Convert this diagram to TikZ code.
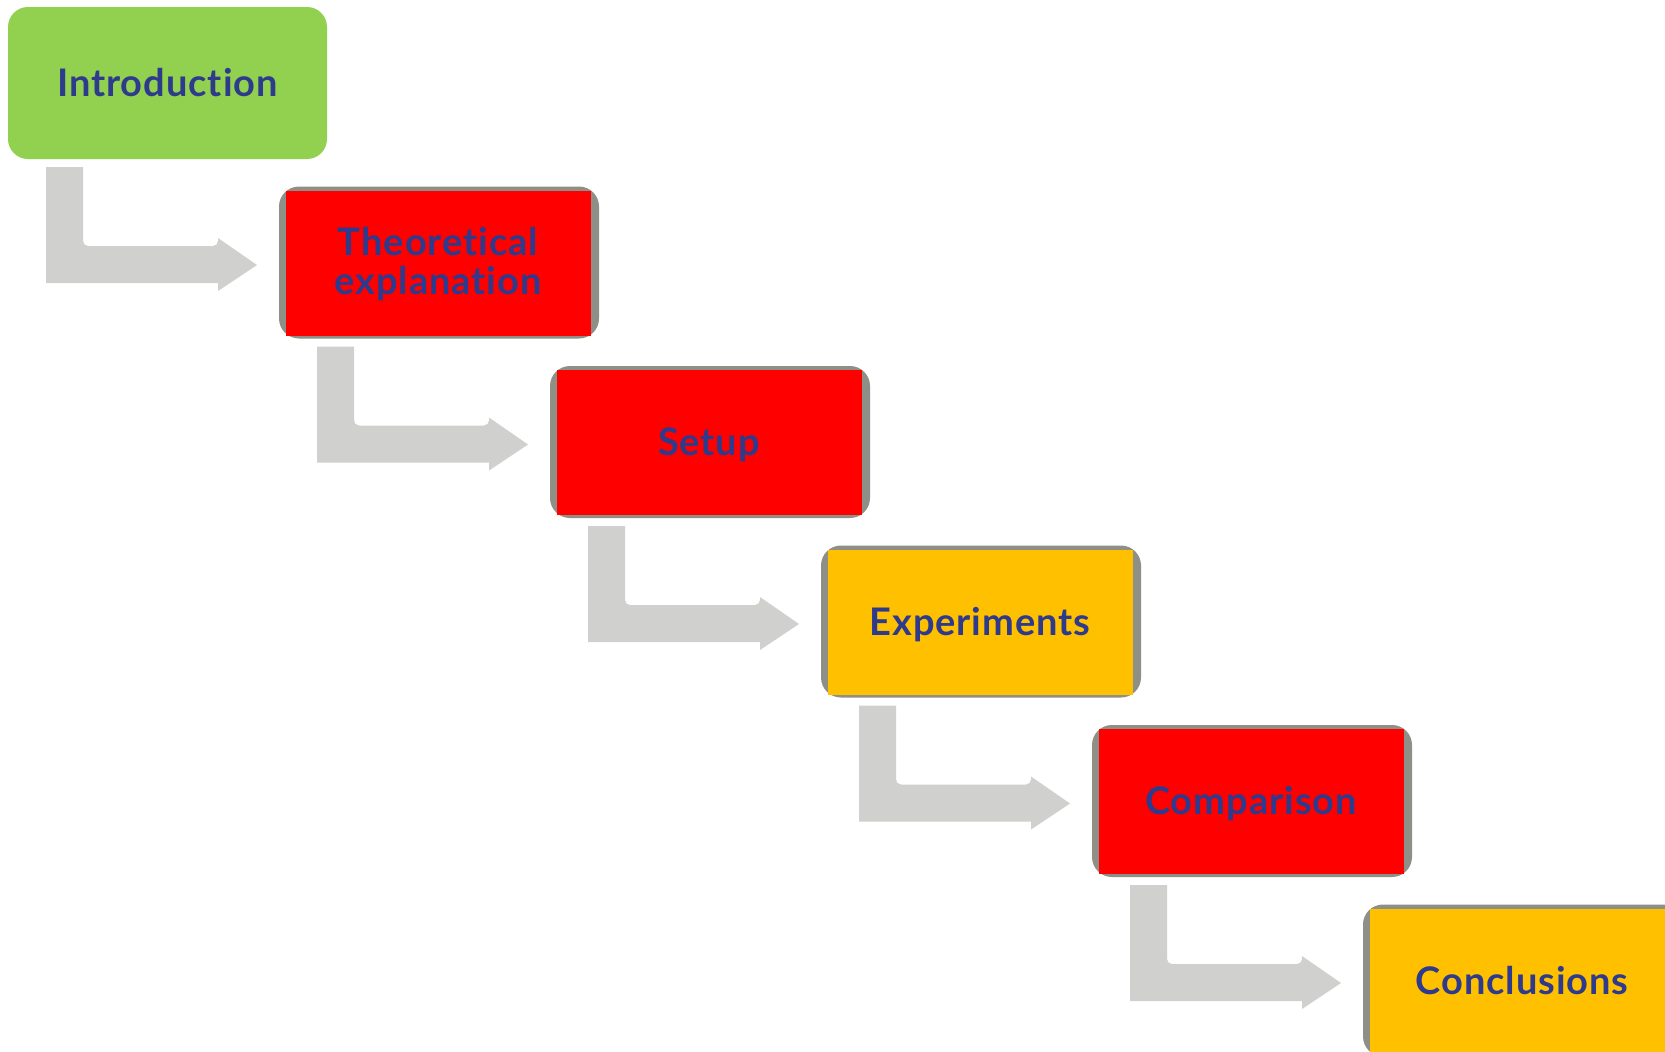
\documentclass[tikz,border=0pt]{standalone}
\usepackage{fontspec}
\setmainfont{Lato}[Ligatures=NoCommon, LetterSpace=2.5]
\usetikzlibrary{calc}
\definecolor{introgreen}{HTML}{92D050}
\definecolor{stepred}{HTML}{FF0000}
\definecolor{stepyellow}{HTML}{FFC000}
\definecolor{framegray}{HTML}{8E8F87}
\definecolor{arrowgray}{HTML}{D0D0CE}
\definecolor{textblue}{HTML}{2E3A8C}
\tikzset{
  framebox/.style={fill=framegray, rounded corners=20pt, minimum width=320pt, minimum height=152pt, anchor=north west, inner sep=0pt, outer sep=0pt},
  introbox/.style={fill=introgreen, rounded corners=20pt, minimum width=319pt, minimum height=152pt, anchor=north west, inner sep=0pt, outer sep=0pt},
  steplabel/.style={text=textblue, font=\fontsize{38}{40}\selectfont\bfseries, anchor=base, inner sep=0pt},
  flowarrow/.style={fill=arrowgray}
}
\begin{document}
\begin{tikzpicture}[x=1pt,y=-1pt]
\clip (0,0) rectangle (1665,1052);
\fill[white] (0,0) rectangle (1665,1052);
% boxes
\node[introbox] (f0) at (8,7) {};
\node[framebox] (f1) at (279,186.5) {};
\node[framebox] (f2) at (550,366) {};
\node[framebox] (f3) at (821,545.5) {};
\node[framebox] (f4) at (1092,725) {};
\node[framebox] (f5) at (1363,904.5) {};
\fill[stepred] ($(f1.north west)+(7,4)$) rectangle ($(f1.south east)+(-8,-3)$);
\fill[stepred] ($(f2.north west)+(7,4)$) rectangle ($(f2.south east)+(-8,-3)$);
\fill[stepyellow] ($(f3.north west)+(7,4)$) rectangle ($(f3.south east)+(-8,-3)$);
\fill[stepred] ($(f4.north west)+(7,4)$) rectangle ($(f4.south east)+(-8,-3)$);
\fill[stepyellow] ($(f5.north west)+(7,4)$) rectangle ($(f5.south east)+(-8,-3)$);
% labels
\node[steplabel] (t0) at ($(f0.north)+(0,89.5)$) {Introduction};
\node[steplabel] (t1a) at ($(f1.north)+(-1,69)$) {Theoretical};
\node[steplabel] (t1b) at ($(f1.north)+(-1,108)$) {explanation};
\node[steplabel] (t2) at ($(f2.north)+(-1,89.5)$) {Setup};
\node[steplabel] (t3) at ($(f3.north)+(-1,89.5)$) {Experiments};
\node[steplabel] (t4) at ($(f4.north)+(-1,89.5)$) {Comparison};
\node[steplabel] (t5) at ($(f5.north)+(-1,89.5)$) {Conclusions};
% arrows
\foreach \i in {0,...,4}{
  \begin{scope}[shift={(f\i.south west)}]
    \fill[flowarrow] (38,8) -- (75,8) [rounded corners=5pt]-- (75,87) -- (210,87) [sharp corners]-- (210,79) -- (249,106) -- (210,132) -- (210,124) -- (38,124) -- cycle;
  \end{scope}
}
\end{tikzpicture}
\end{document}
